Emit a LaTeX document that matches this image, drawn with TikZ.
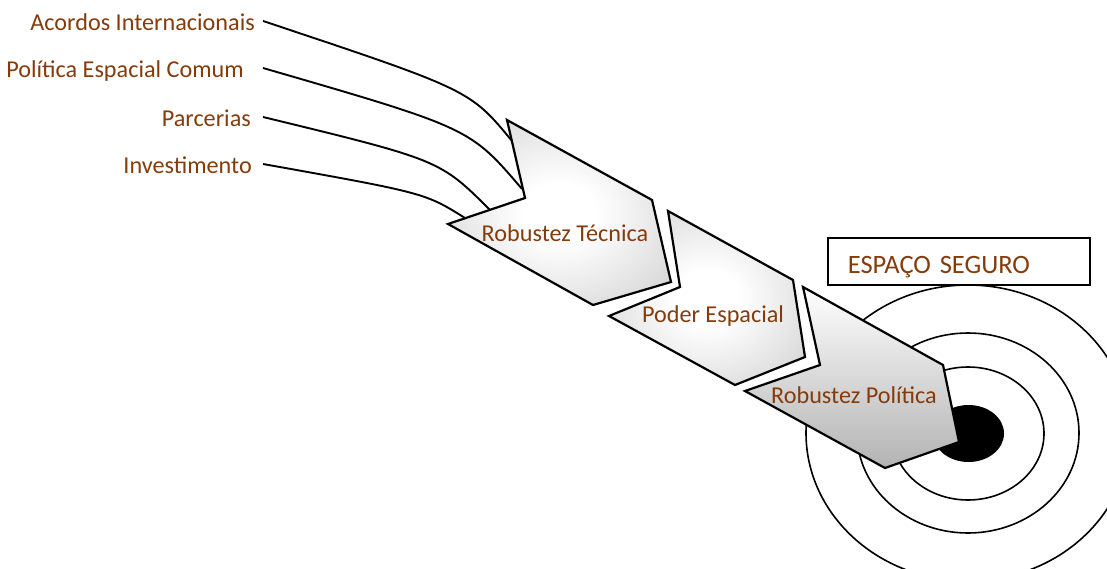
\documentclass[tikz,border=0pt]{standalone}
\usepackage{fontspec}
\setmainfont{Carlito}
\definecolor{txtbrown}{RGB}{132,60,12}
\pgfdeclareradialshading{chevshade}{\pgfpoint{0bp}{0bp}}{color(0bp)=(white); color(8bp)=(white); color(38bp)=(black!20); color(50bp)=(black!22)}
\begin{document}
\begin{tikzpicture}[x=1pt,y=-1pt,
  lbl/.style={font=\fontsize{24.2}{29}\selectfont, text=txtbrown, anchor=base east, text height=20pt, text depth=0pt, inner ysep=0pt},
  chevtxt/.style={font=\fontsize{24.2}{29}\selectfont, text=txtbrown, inner sep=0pt},
  conn/.style={line width=1.9pt},
  chev/.style={draw, line width=2.2pt, line join=miter},
  ring/.style={draw, line width=1.6pt, fill=white}]
\useasboundingbox (0,0) rectangle (1107,569);
\clip (0,0) rectangle (1107,569);

% labels
\node[lbl, inner xsep=8pt] (acordos) at (263,31) {Acordos Internacionais};
\node[lbl, inner xsep=19pt] (politica) at (263,78) {Política Espacial Comum};
\node[lbl, inner xsep=12pt] (parcerias) at (263,127) {Parcerias};
\node[lbl, inner xsep=11pt] (invest) at (263,174) {Investimento};

% end points on the first chevron
\coordinate (e1) at (512,141);
\coordinate (e2) at (522,189);
\coordinate (e3) at (490,210);
\coordinate (e4) at (465,218);

\draw[conn] (acordos.east) .. controls (470,90) and (470,90) .. (e1);
\draw[conn] (politica.east) .. controls (470,128) and (470,128) .. (e2);
\draw[conn] (parcerias.east) .. controls (440,160) and (440,160) .. (e3);
\draw[conn] (invest.east) .. controls (425,193) and (425,193) .. (e4);

% target
\draw[ring] (968,433) ellipse [x radius=162pt, y radius=148pt];
\draw[ring] (968,433) ellipse [x radius=111pt, y radius=100pt];
\draw[ring] (968,433.5) ellipse [x radius=76pt, y radius=66.5pt];
\fill[black] (968.5,433.5) ellipse [x radius=35.5pt, y radius=28.5pt];

% box
\node[draw, line width=1.6pt, anchor=north west, minimum width=262pt, minimum height=47pt,
      inner xsep=20pt, inner ysep=0pt, text width=222pt, align=left,
      text height=27pt, text depth=2pt,
      font=\fontsize{26.5}{31}\selectfont, text=txtbrown] (espaco) at (827,237) {ESPAÇO SEGURO};

% chevrons
\path[chev, shade, shading=chevshade] (507,120) -- (652,200) -- (671,282) -- (593,305) -- (448,224) -- (525,198) -- cycle;
\node[chevtxt] (tecnica) at (565,233) {Robustez Técnica};

\path[chev, shade, shading=chevshade] (668,211) -- (793,280) -- (805,357) -- (735,385) -- (609,316) -- (680,287) -- cycle;
\node[chevtxt] (poder) at (713,316) {Poder Espacial};

\path[chev, top color=white, bottom color=black!30] (803,287) -- (943,365) -- (959,442) -- (885,468) -- (745,391) -- (820,365) -- cycle;
\node[chevtxt] (politicaR) at (854,395) {Robustez Política};
\end{tikzpicture}
\end{document}
